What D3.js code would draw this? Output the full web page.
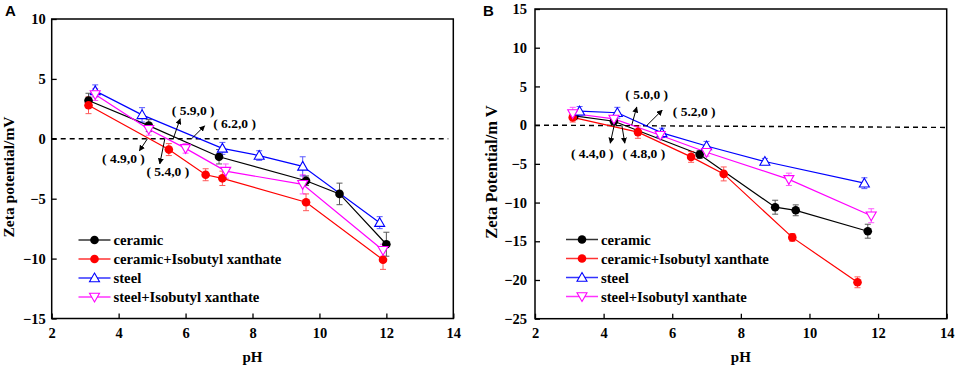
<html>
<head>
<meta charset="utf-8">
<title>Zeta potential vs pH</title>
<style>
body { margin: 0; background: #fff; }
svg text { font-family: "Liberation Serif", "Times New Roman", Times, "DejaVu Serif", serif !important; font-weight: bold; }
svg text.letter { font-family: "Liberation Sans", Arial, sans-serif !important; }
svg text.note { font-size: 13.5px; }
.tick text { font-size: 14.5px; }
.legend text { font-size: 14.7px; }
</style>
<script src="https://cdnjs.cloudflare.com/ajax/libs/d3/7.8.5/d3.min.js"></script>
</head>
<body>
<svg id="chart" width="957" height="373"></svg>
<script>

// series names and look
var seriesNames = ['ceramic', 'ceramic+Isobutyl xanthate', 'steel', 'steel+Isobutyl xanthate'];
var seriesColors = ['#000000', '#ff0000', '#0000ff', '#ff00ff'];
var seriesShapes = ['circle', 'circle', 'up', 'down'];

// panel A : [pH, zeta mV, error]
var ceramicA = [[3.1, 3.2, 0.6], [4.9, 1.1, 0.5], [7.0, -1.5, 0.6], [9.6, -3.5, 0.4], [10.6, -4.6, 0.9], [12.0, -8.8, 1.0]];
var ceramicXanA = [[3.1, 2.8, 0.7], [5.5, -0.9, 0.5], [6.6, -3.0, 0.5], [7.1, -3.3, 0.6], [9.6, -5.3, 0.7], [11.9, -10.1, 0.8]];
var steelA = [[3.3, 4.0, 0.5], [4.7, 2.0, 0.6], [7.1, -0.8, 0.5], [8.2, -1.4, 0.4], [9.5, -2.3, 0.8], [11.8, -7.0, 0.5]];
var steelXanA = [[3.3, 3.7, 0.5], [4.9, 0.8, 0.5], [6.0, -0.8, 0.4], [7.2, -2.7, 0.6], [9.5, -3.8, 0.8], [11.9, -9.3, 0.5]];

// panel B
var ceramicB = [[3.15, 1.2, 0.5], [4.3, 0.5, 0.5], [6.8, -3.8, 0.5], [9.0, -10.6, 0.9], [9.6, -11.0, 0.7], [11.7, -13.7, 0.9]];
var ceramicXanB = [[3.1, 1.0, 0.6], [5.0, -0.9, 0.8], [6.55, -4.1, 0.7], [7.5, -6.3, 0.9], [9.5, -14.5, 0.5], [11.4, -20.3, 0.7]];
var steelB = [[3.3, 1.8, 0.6], [4.4, 1.6, 0.7], [5.7, -1.0, 0.6], [7.0, -2.7, 0.6], [8.7, -4.7, 0.4], [11.6, -7.5, 0.7]];
var steelXanB = [[3.1, 1.5, 0.8], [4.3, 0.8, 0.4], [5.65, -1.3, 0.4], [7.0, -3.5, 0.5], [9.4, -7.0, 0.8], [11.8, -11.7, 0.9]];

// dashed reference lines
var zeroLineA = [[2, 0], [13.85, 0]];
var zeroLineB = [[2, 0], [14, -0.3]];

// ticks
var xTicks = [2, 4, 6, 8, 10, 12, 14];
var yTicksA = [-15, -10, -5, 0, 5, 10];
var yTicksB = [-25, -20, -15, -10, -5, 0, 5, 10, 15];

// zero point labels
var notesA = ['4.9,0', '5.4,0', '5.9,0', '6.2,0'];
var notesB = ['5.0,0', '5.2,0', '4.4,0', '4.8,0'];

var svg = d3.select('#chart');

var defs = svg.append('defs');
defs.append('marker')
	.attr('id', 'arrow')
	.attr('viewBox', '0 0 10 10')
	.attr('refX', 9).attr('refY', 5)
	.attr('markerWidth', 6).attr('markerHeight', 6)
	.attr('markerUnits', 'userSpaceOnUse')
	.attr('orient', 'auto')
	.append('path')
	.attr('d', 'M0,0 L10,5 L0,10 z')
	.attr('fill', '#000');

function drawPanel(cfg) {
	var x = d3.scaleLinear().domain([2, 14]).range([cfg.left, cfg.right]);
	var y = d3.scaleLinear().domain(cfg.yDomain).range([cfg.bottom, cfg.top]);
	var g = svg.append('g');

	g.append('rect')
		.attr('x', cfg.left).attr('y', cfg.top)
		.attr('width', cfg.right - cfg.left).attr('height', cfg.bottom - cfg.top)
		.attr('fill', 'none').attr('stroke', '#000').attr('stroke-width', 1.5);

	var xAxis = g.append('g')
		.attr('transform', 'translate(0,' + cfg.bottom + ')')
		.call(d3.axisBottom(x).tickValues(xTicks).tickSize(-5).tickPadding(9).tickSizeOuter(0));
	var yAxis = g.append('g')
		.attr('transform', 'translate(' + cfg.left + ',0)')
		.call(d3.axisLeft(y).tickValues(cfg.yTicks).tickSize(-5).tickPadding(cfg.yPad).tickSizeOuter(0));
	[xAxis, yAxis].forEach(function(a) {
		a.attr('font-family', null).attr('font-size', null);
		a.select('.domain').remove();
		a.selectAll('.tick line').attr('stroke-width', 1.3);
		a.selectAll('.tick text').attr('fill', '#000');
	});

	g.append('text')
		.attr('class', 'letter')
		.text(cfg.letter)
		.attr('x', cfg.letterX).attr('y', 16)
		.style('font-size', '15px');

	g.append('text')
		.text('pH')
		.attr('x', (cfg.left + cfg.right) / 2).attr('y', 362)
		.attr('text-anchor', 'middle')
		.style('font-size', '15px');

	g.append('text')
		.text(cfg.yTitle)
		.attr('transform', 'translate(' + cfg.yTitleX + ',' + cfg.yTitleY + ') rotate(-90)')
		.attr('text-anchor', 'middle')
		.style('font-size', cfg.yTitleSize);

	var line = d3.line().x(function(d) { return x(d[0]); }).y(function(d) { return y(d[1]); });

	g.append('path')
		.attr('d', line(cfg.zero))
		.attr('fill', 'none').attr('stroke', '#000')
		.attr('stroke-width', 1.4).attr('stroke-dasharray', '5,4');

	cfg.series.forEach(function(s, i) {
		g.append('path')
			.attr('d', line(s))
			.attr('fill', 'none')
			.attr('stroke', seriesColors[i])
			.attr('stroke-width', 1.2);
	});

	cfg.series.forEach(function(s, i) {
		var eb = g.append('g').attr('stroke', seriesColors[i]).attr('stroke-width', 1).attr('opacity', 0.65);
		s.forEach(function(d) {
			var cx = x(d[0]), y1 = y(d[1] + d[2]), y2 = y(d[1] - d[2]);
			eb.append('line').attr('x1', cx).attr('x2', cx).attr('y1', y1).attr('y2', y2);
			eb.append('line').attr('x1', cx - 3).attr('x2', cx + 3).attr('y1', y1).attr('y2', y1);
			eb.append('line').attr('x1', cx - 3).attr('x2', cx + 3).attr('y1', y2).attr('y2', y2);
		});
	});

	cfg.series.forEach(function(s, i) {
		s.forEach(function(d) {
			drawMarker(g, x(d[0]), y(d[1]), i);
		});
	});

	// legend
	var lg = g.append('g').attr('class', 'legend');
	seriesNames.forEach(function(name, i) {
		var ly = cfg.legendY + i * 19;
		lg.append('line')
			.attr('x1', cfg.legendX).attr('x2', cfg.legendX + 32)
			.attr('y1', ly).attr('y2', ly)
			.attr('stroke', seriesColors[i]).attr('stroke-width', 1.5).attr('opacity', 0.8);
		drawMarker(lg, cfg.legendX + 16, ly, i);
		lg.append('text')
			.text(name)
			.attr('x', cfg.legendX + 35).attr('y', ly + 5);
	});

	// zero crossing notes
	cfg.notes.forEach(function(n, i) {
		var L = cfg.noteLayout[i];
		var bx = x(L[0]), by = y(0);
		g.append('line')
			.attr('x1', bx).attr('y1', by)
			.attr('x2', bx + L[1]).attr('y2', by + L[2])
			.attr('stroke', '#000').attr('stroke-width', 1)
			.attr('marker-end', 'url(#arrow)');
		g.append('text')
			.attr('class', 'note')
			.text('( ' + n + ' )')
			.attr('x', bx + L[3]).attr('y', by + L[4])
			.attr('text-anchor', 'middle')
			.attr('dominant-baseline', 'central');
	});
}

function drawMarker(g, cx, cy, i) {
	var c = seriesColors[i];
	if (seriesShapes[i] == 'circle') {
		g.append('circle').attr('cx', cx).attr('cy', cy).attr('r', 4.3).attr('fill', c);
	} else {
		var s = 5;
		var p = seriesShapes[i] == 'up'
			? [[cx, cy - s], [cx + s, cy + s * 0.75], [cx - s, cy + s * 0.75]]
			: [[cx, cy + s], [cx + s, cy - s * 0.75], [cx - s, cy - s * 0.75]];
		g.append('path')
			.attr('d', 'M' + p.join('L') + 'Z')
			.attr('fill', '#fff').attr('stroke', c).attr('stroke-width', 1.1);
	}
}

drawPanel({
	letter: 'A', letterX: 5,
	left: 51.7, right: 453.3, top: 19, bottom: 318.5,
	yDomain: [-15, 10], yTicks: yTicksA, yPad: 6,
	yTitle: 'Zeta potential/mV', yTitleX: 14, yTitleY: 177, yTitleSize: '15.5px',
	series: [ceramicA, ceramicXanA, steelA, steelXanA],
	zero: zeroLineA,
	legendX: 78.5, legendY: 240,
	notes: notesA,
	// [base pH, arrow dx, arrow dy, text dx, text dy]
	noteLayout: [[4.86, -8, 12, -24, 20], [5.38, -5, 25, 3, 33], [5.63, 7, -20, 20, -28], [6.18, 13, -13, 43, -15]]
});

drawPanel({
	letter: 'B', letterX: 483,
	left: 535, right: 946.7, top: 9, bottom: 318.7,
	yDomain: [-25, 15], yTicks: yTicksB, yPad: 8,
	yTitle: 'Zeta Potential/m V', yTitleX: 497, yTitleY: 172, yTitleSize: '16.5px',
	series: [ceramicB, ceramicXanB, steelB, steelXanB],
	zero: zeroLineB,
	legendX: 566, legendY: 239.5,
	notes: notesB,
	noteLayout: [[4.82, 5, -18, 15, -31], [5.27, 15, -15, 47, -14], [4.31, -4, 18, -22, 28], [4.53, 3, 18, 22, 28]]
});

</script>
</body>
</html>
